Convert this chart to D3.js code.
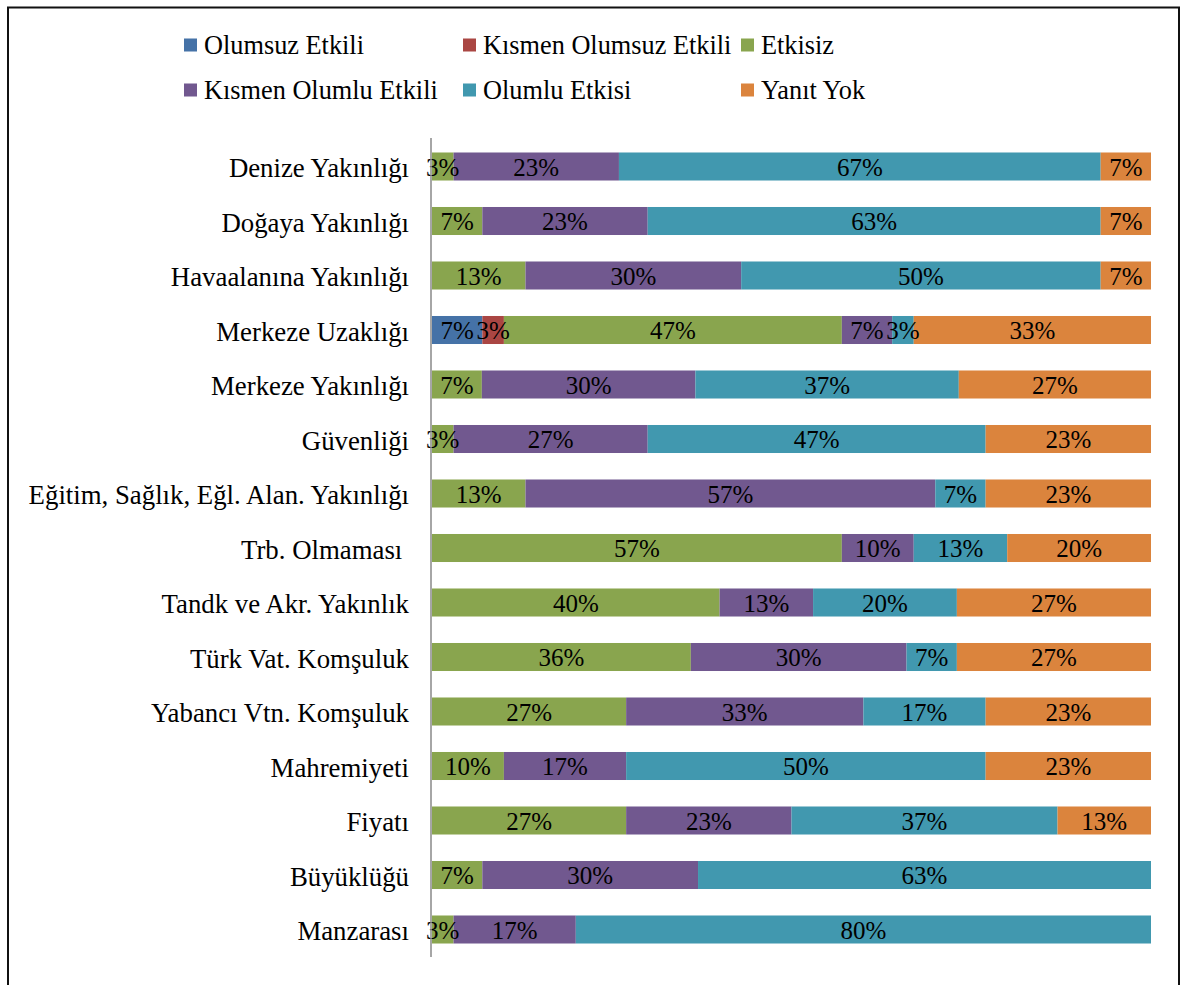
<!DOCTYPE html>
<html>
<head>
<meta charset="utf-8">
<script src="https://cdn.jsdelivr.net/npm/d3@7"></script>
<style>
  html, body { margin: 0; padding: 0; background: #fff; }
  svg { display: block; }
  svg text { font-family: "Liberation Serif", "Times New Roman", serif; }
</style>
</head>
<body>
<svg id="chart" width="1180" height="985"></svg>
<script>
// Factors and response shares (%)
const categories = [
  "Denize Yakınlığı", "Doğaya Yakınlığı", "Havaalanına Yakınlığı", "Merkeze Uzaklığı",
  "Merkeze Yakınlığı", "Güvenliği", "Eğitim, Sağlık, Eğl. Alan. Yakınlığı", "Trb. Olmaması\u00a0",
  "Tandk ve Akr. Yakınlık", "Türk Vat. Komşuluk", "Yabancı Vtn. Komşuluk", "Mahremiyeti",
  "Fiyatı", "Büyüklüğü", "Manzarası"
];
const seriesNames = ["Olumsuz Etkili", "Kısmen Olumsuz Etkili", "Etkisiz",
                     "Kısmen Olumlu Etkili", "Olumlu Etkisi", "Yanıt Yok"];
const seriesColors = ["#4572A7", "#AA4643", "#89A54E", "#71588F", "#4198AF", "#DB843D"];

const olumsuz        = [0, 0, 0, 7, 0, 0, 0, 0, 0, 0, 0, 0, 0, 0, 0];
const kismenOlumsuz  = [0, 0, 0, 3, 0, 0, 0, 0, 0, 0, 0, 0, 0, 0, 0];
const etkisiz        = [3, 7, 13, 47, 7, 3, 13, 57, 40, 36, 27, 10, 27, 7, 3];
const kismenOlumlu   = [23, 23, 30, 7, 30, 27, 57, 10, 13, 30, 33, 17, 23, 30, 17];
const olumlu         = [67, 63, 50, 3, 37, 47, 7, 13, 20, 7, 17, 50, 37, 63, 80];
const yanitYok       = [7, 7, 7, 33, 27, 23, 23, 20, 27, 27, 23, 23, 13, 0, 0];

const seriesValues = [olumsuz, kismenOlumsuz, etkisiz, kismenOlumlu, olumlu, yanitYok];

const rows = categories.map((c, i) => {
  const r = { category: c };
  seriesNames.forEach((s, k) => { r[s] = seriesValues[k][i]; });
  return r;
});

const LABEL_FONT = 25;
const AXIS_FONT = 26.8;
const LEGEND_FONT = 26.3;
const svg = d3.select("#chart");

// Outer chart frame
svg.append("rect")
  .attr("x", 8).attr("y", 7.5).attr("width", 1171).attr("height", 1000)
  .attr("fill", "none").attr("stroke", "#111").attr("stroke-width", 2);

const x = d3.scaleLinear().domain([0, 1]).range([432, 1151]);
const y = d3.scaleBand().domain(categories).range([139.25, 956.75]).paddingInner(0.486).paddingOuter(0.243);

const stack = d3.stack().keys(seriesNames).offset(d3.stackOffsetExpand);
const layers = stack(rows);

const g = svg.append("g");
layers.forEach((layer, k) => {
  g.append("g").attr("fill", seriesColors[k])
    .selectAll("rect")
    .data(layer.filter(d => d[1] - d[0] > 0))
    .join("rect")
    .attr("x", d => x(d[0]))
    .attr("y", d => y(d.data.category))
    .attr("width", d => x(d[1]) - x(d[0]))
    .attr("height", y.bandwidth());
});

// Segment labels
layers.forEach((layer) => {
  g.append("g")
    .selectAll("text")
    .data(layer.filter(d => d[1] - d[0] > 0))
    .join("text")
    .attr("x", d => (x(d[0]) + x(d[1])) / 2)
    .attr("y", d => y(d.data.category) + y.bandwidth() / 2)
    .attr("dy", "0.36em")
    .attr("text-anchor", "middle")
    .attr("font-size", LABEL_FONT)
    .attr("fill", "#000")
    .text(d => d.data[layer.key] + "%");
});

// Category axis
const axis = d3.axisLeft(y).tickSize(0).tickPadding(22);
const ax = svg.append("g").attr("transform", "translate(431,0)").call(axis);
ax.attr("font-family", null).attr("font-size", null);
ax.select(".domain").attr("stroke", "#888").attr("stroke-width", 1.5).attr("d", "M0,138V957");
ax.selectAll("text").attr("font-size", AXIS_FONT).attr("fill", "#000").attr("dy", "0.4em");

// Legend
const legendPos = [
  [184, 45], [463, 45], [741, 45],
  [184, 90], [463, 90], [741, 90]
];
const lg = svg.append("g");
seriesNames.forEach((name, k) => {
  const [lx, ly] = legendPos[k];
  lg.append("rect").attr("x", lx).attr("y", ly - 6.5).attr("width", 13).attr("height", 13)
    .attr("fill", seriesColors[k]);
  lg.append("text").attr("x", lx + 20).attr("y", ly).attr("dy", "0.35em")
    .attr("font-size", LEGEND_FONT).attr("fill", "#000").text(name);
});
</script>
</body>
</html>
